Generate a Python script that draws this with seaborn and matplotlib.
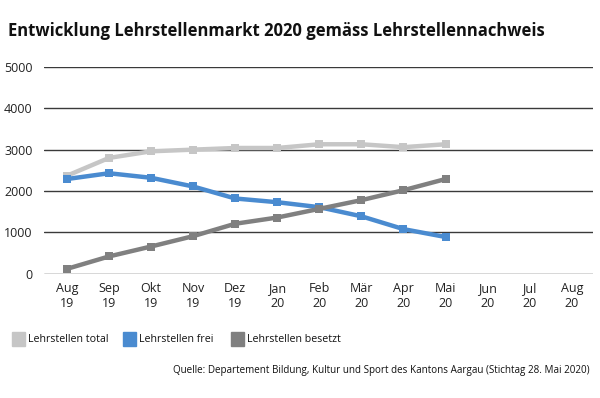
import matplotlib
matplotlib.use("Agg")
import matplotlib.pyplot as plt
import matplotlib.patches as mpatches
import seaborn as sns
import pandas as pd

months = ["Aug\n19", "Sep\n19", "Okt\n19", "Nov\n19", "Dez\n19", "Jan\n20", "Feb\n20",
          "Mär\n20", "Apr\n20", "Mai\n20", "Jun\n20", "Jul\n20", "Aug\n20"]
total = [2370, 2800, 2960, 3000, 3040, 3040, 3130, 3130, 3060, 3130]
frei = [2290, 2430, 2320, 2110, 1820, 1730, 1610, 1390, 1080, 890]
besetzt = [120, 420, 660, 910, 1210, 1360, 1570, 1780, 2020, 2290]
series_names = ["Lehrstellen total", "Lehrstellen frei", "Lehrstellen besetzt"]
colors = ["#c6c6c6", "#4a8bd0", "#808080"]

rows = []
for name, vals in zip(series_names, [total, frei, besetzt]):
    for i, v in enumerate(vals):
        rows.append({"x": i, "value": v, "series": name})
df = pd.DataFrame(rows)

sns.set_theme(style="white")
plt.rcParams['font.family'] = ['Open Sans', 'DejaVu Sans']

fig = plt.figure(figsize=(6, 3.98), dpi=100)
ax = fig.add_axes([0.073, 0.312, 0.915, 0.52])

for y in range(0, 5001, 1000):
    ax.axhline(y, color="#3a3a3a", lw=1.0, zorder=0)

sns.lineplot(data=df, x="x", y="value", hue="series", palette=colors,
             hue_order=series_names, style="series", markers=["s", "s", "s"],
             dashes=False, lw=3.2, markersize=6, markeredgewidth=0,
             ax=ax, legend=False)

ax.set_xlim(-0.55, 12.5)
ax.set_ylim(0, 5000)
ax.set_xticks(range(len(months)))
ax.set_xticklabels(months, fontsize=9, color="#222222", linespacing=1.2)
ax.set_yticks(range(0, 5001, 1000))
ax.set_yticklabels([str(v) for v in range(0, 5001, 1000)], fontsize=9, color="#222222")
ax.tick_params(axis="both", length=0, pad=6)
ax.tick_params(axis="y", pad=8)
ax.set_xlabel("")
ax.set_ylabel("")
for s in ax.spines.values():
    s.set_visible(False)

fig.text(0.013, 0.923, "Entwicklung Lehrstellenmarkt 2020 gemäss Lehrstellennachweis",
         fontsize=11.95, fontweight="bold", color="#111111", va="center")

# legend: square patches and labels placed in figure pixels
W, H = 600, 398
leg_y = 339
for px, (c, n) in zip([12, 123, 231], zip(colors, series_names)):
    fig.patches.append(mpatches.Rectangle((px / W, (H - leg_y - 7) / H), 13 / W, 14 / H,
                                          transform=fig.transFigure, color=c))
    fig.text((px + 16) / W, (H - leg_y) / H, n, fontsize=7.7, va="center",
             color="#111111")

fig.text(0.983, 0.07, "Quelle: Departement Bildung, Kultur und Sport des Kantons Aargau (Stichtag 28. Mai 2020)",
         fontsize=7.1, ha="right", va="center", color="#111111")

fig.savefig("out.png", dpi=100)
